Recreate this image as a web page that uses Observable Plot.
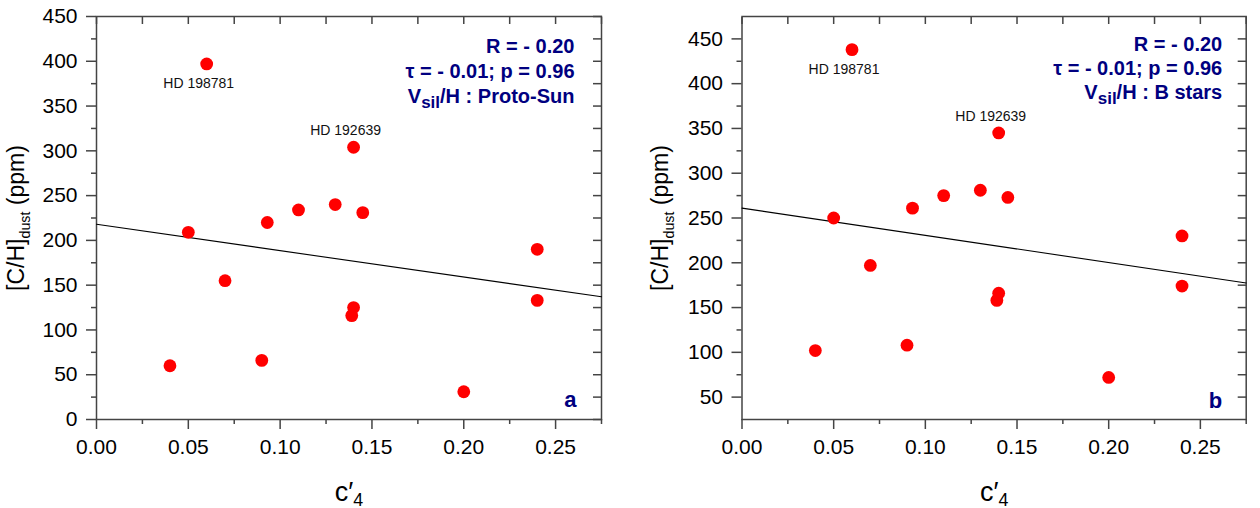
<!DOCTYPE html>
<html><head><meta charset="utf-8">
<script src="https://cdn.jsdelivr.net/npm/d3@7"></script>
<script src="https://cdn.jsdelivr.net/npm/@observablehq/plot@0.6"></script>
<style>
html,body{margin:0;padding:0;background:#fff;}
#chart{display:flex;width:1260px;height:508px;overflow:hidden;}
</style></head><body><div id="chart"></div>
<script>
// ---- data ----
const c4 = [0.04, 0.05, 0.06, 0.07, 0.09, 0.093, 0.11, 0.13, 0.139, 0.14, 0.14, 0.145, 0.20, 0.24, 0.24];
const chProtoSun = [60, 209, 397, 155, 66, 220, 234, 240, 116, 125, 304, 231, 31, 190, 133];
const chBStars   = [102, 250, 438, 197, 108, 261, 275, 281, 158, 166, 345, 273, 72, 230, 174];
const fitX = [0, 0.275];
const fitProtoSun = [218, 137];
const fitBStars = [261, 177.5];
const starNames = ["HD 198781", "HD 192639"];
const starIndex = [2, 10];
const xMajorTicks = [0, 0.05, 0.10, 0.15, 0.20, 0.25];
const xMinorTicks = [0.025, 0.075, 0.125, 0.175, 0.225, 0.275];
const yMajorA = [0, 50, 100, 150, 200, 250, 300, 350, 400, 450];
const yMinorA = [25, 75, 125, 175, 225, 275, 325, 375, 425];
const yMajorB = [50, 100, 150, 200, 250, 300, 350, 400, 450];
const yMinorB = [75, 125, 175, 225, 275, 325, 375, 425];
const statsLines = ["R = - 0.20", "τ = - 0.01; p = 0.96"];
const refLabelA = "V_{sil}/H : Proto-Sun";
const refLabelB = "V_{sil}/H : B stars";
const yTitle = "[C/H]_{dust} (ppm)";
const xTitle = "c′_{4}";
const subStyle = {sil: {scale: 0.85, shift: 5}, dust: {scale: 0.62, shift: 6}, "4": {scale: 0.66, shift: 5}};

const FONT = "'Liberation Sans', Arial, Helvetica, sans-serif";
const NAVY = "#000080";
const AX = "#444";

function panel(o) {
  const pts = c4.map((x, i) => ({x, y: o.values[i]}));
  const fitPts = fitX.map((x, i) => ({x, y: o.fit[i]}));
  const stars = starIndex.map((idx, k) => ({x: c4[idx], y: o.values[idx], name: starNames[k]}));
  const lines = [...statsLines, o.ref];
  return Plot.plot({
    width: o.width, height: 508,
    marginLeft: o.ml, marginRight: o.mr, marginTop: 16, marginBottom: 89,
    x: {domain: [0, 0.275]},
    y: {domain: o.yDomain},
    style: {fontFamily: FONT, fontSize: "21px", color: "black", background: "white", overflow: "visible"},
    marks: [
      Plot.axisY({ticks: o.yMajor, tickSize: 10, tickPadding: 9, tickFormat: d3.format("d"), stroke: AX, strokeWidth: 1.5, fill: "black", fontSize: 21, label: null}),
      Plot.axisY({ticks: o.yMinor, tickSize: 5, tickFormat: () => "", stroke: AX, strokeWidth: 1.5, label: null}),
      Plot.axisY({anchor: "right", ticks: [...o.yMajor, ...o.yMinor], tickSize: 9, dx: -9, tickFormat: () => "", stroke: AX, strokeWidth: 1.5, label: null}),
      Plot.axisX({ticks: xMajorTicks, tickSize: 10, tickPadding: 10, tickFormat: d3.format(".2f"), stroke: AX, strokeWidth: 1.5, fill: "black", fontSize: 21, label: null}),
      Plot.axisX({ticks: xMinorTicks, tickSize: 5, tickFormat: () => "", stroke: AX, strokeWidth: 1.5, label: null}),
      Plot.axisX({anchor: "top", ticks: [...xMajorTicks, ...xMinorTicks], tickSize: 7, dy: 7, tickFormat: () => "", stroke: AX, strokeWidth: 1.5, label: null}),
      Plot.frame({stroke: AX, strokeWidth: 1.5}),
      Plot.line(fitPts, {x: "x", y: "y", stroke: "black", strokeWidth: 1.1}),
      Plot.dot(pts, {x: "x", y: "y", r: 6.4, fill: "#ff0000", stroke: "none"}),
      Plot.text([stars[0]], {x: "x", y: "y", text: "name", dx: -8, dy: 24.5, lineAnchor: "bottom", fontSize: 14, fill: "#111"}),
      Plot.text([stars[1]], {x: "x", y: "y", text: "name", dx: -8, dy: -12, lineAnchor: "bottom", fontSize: 14, fill: "#111"}),
      ...lines.map((t, i) => Plot.text([t], {frameAnchor: "top-right", textAnchor: "end", lineAnchor: "bottom", dx: o.annDx, dy: o.annDy[i], fontSize: 20, fontWeight: "bold", fill: NAVY})),
      Plot.text([o.letter], {frameAnchor: "bottom-right", textAnchor: "end", lineAnchor: "bottom", dx: o.letDx, dy: o.letDy, fontSize: 22, fontWeight: "bold", fill: NAVY}),
      Plot.text([yTitle], {frameAnchor: "left", rotate: -90, dx: o.ylabDx, lineAnchor: "middle", textAnchor: "middle", fontSize: 23, fill: "black"}),
      Plot.text([xTitle], {frameAnchor: "bottom", lineAnchor: "bottom", dy: 81, textAnchor: "middle", fontSize: 27, fill: "black"})
    ]
  });
}

function richify(svg) {
  svg.querySelectorAll("text").forEach(t => {
    const s = t.textContent;
    if (!s.includes("_{")) return;
    const fs = parseFloat(getComputedStyle(t).fontSize);
    const parts = s.split(/(_\{[^}]*\})/).filter(p => p !== "");
    while (t.firstChild) t.removeChild(t.firstChild);
    let pendingUp = 0;
    parts.forEach(p => {
      const ts = document.createElementNS("http://www.w3.org/2000/svg", "tspan");
      const m = p.match(/^_\{([^}]*)\}$/);
      if (m) {
        const st = subStyle[m[1]] || {scale: 0.7, shift: 5};
        ts.textContent = m[1];
        ts.setAttribute("font-size", (fs * st.scale).toFixed(1));
        ts.setAttribute("dy", st.shift);
        pendingUp = st.shift;
      } else {
        ts.textContent = p;
        if (pendingUp) { ts.setAttribute("dy", -pendingUp); pendingUp = 0; }
      }
      t.appendChild(ts);
    });
  });
}

const chart = document.getElementById("chart");
const a = panel({values: chProtoSun, fit: fitProtoSun, yDomain: [0, 450], yMajor: yMajorA, yMinor: yMinorA,
  ref: refLabelA, letter: "a", width: 630, ml: 96, mr: 29, annDx: -27, annDy: [36, 61, 86], letDx: -25, letDy: -13, ylabDx: -80});
const b = panel({values: chBStars, fit: fitBStars, yDomain: [25, 475], yMajor: yMajorB, yMinor: yMinorB,
  ref: refLabelB, letter: "b", width: 630, ml: 111.5, mr: 14.3, annDx: -24, annDy: [34.5, 58.5, 82], letDx: -24, letDy: -12, ylabDx: -81});
chart.appendChild(a);
chart.appendChild(b);
richify(a);
richify(b);
</script></body></html>
